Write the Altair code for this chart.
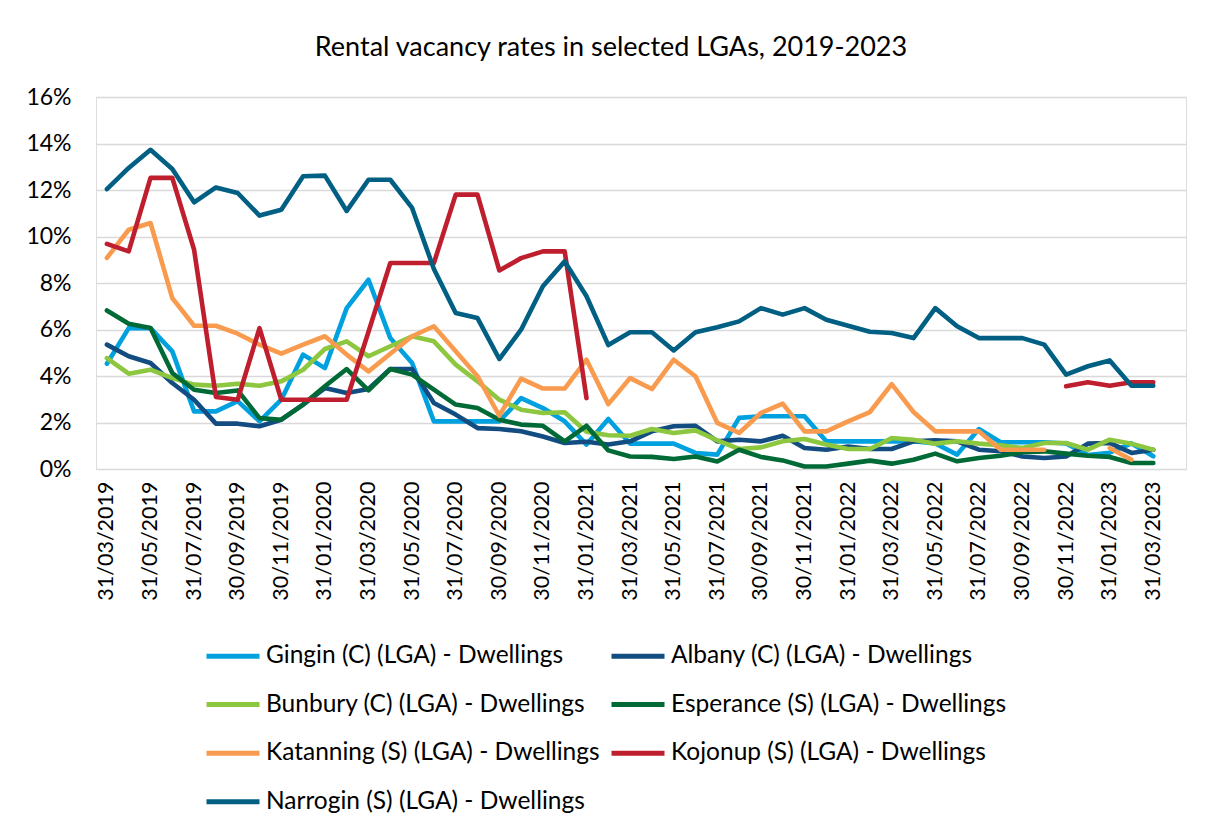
import altair as alt
import pandas as pd

dates = [
    "31/03/2019", "30/04/2019", "31/05/2019", "30/06/2019", "31/07/2019", "31/08/2019",
    "30/09/2019", "31/10/2019", "30/11/2019", "31/12/2019", "31/01/2020", "29/02/2020",
    "31/03/2020", "30/04/2020", "31/05/2020", "30/06/2020", "31/07/2020", "31/08/2020",
    "30/09/2020", "31/10/2020", "30/11/2020", "31/12/2020", "31/01/2021", "28/02/2021",
    "31/03/2021", "30/04/2021", "31/05/2021", "30/06/2021", "31/07/2021", "31/08/2021",
    "30/09/2021", "31/10/2021", "30/11/2021", "31/12/2021", "31/01/2022", "28/02/2022",
    "31/03/2022", "30/04/2022", "31/05/2022", "30/06/2022", "31/07/2022", "31/08/2022",
    "30/09/2022", "31/10/2022", "30/11/2022", "31/12/2022", "31/01/2023", "28/02/2023",
    "31/03/2023", "30/04/2023",
]

gingin = [4.53, 6.06, 6.06, 5.06, 2.48, 2.48, 2.92, 2.05, 2.98, 4.92, 4.34, 6.92, 8.14,
          5.63, 4.56, 2.05, 2.05, 2.05, 2.05, 3.05, 2.62, 2.05, 1.05, 2.15, 1.09, 1.09,
          1.09, 0.69, 0.62, 2.2, 2.27, 2.27, 2.27, 1.19, 1.19, 1.19, 1.19, 1.19, 1.1,
          0.62, 1.72, 1.15, 1.15, 1.15, 1.1, 0.6, 0.7, 1.1, 0.55]
albany = [5.35, 4.85, 4.56, 3.7, 2.98, 1.95, 1.95, 1.84, 2.12, 2.77, 3.48, 3.27, 3.44,
          4.3, 4.3, 2.84, 2.34, 1.76, 1.72, 1.62, 1.4, 1.12, 1.17, 1.05, 1.19, 1.62,
          1.84, 1.86, 1.19, 1.26, 1.19, 1.43, 0.9, 0.83, 0.97, 0.86, 0.86, 1.19, 1.23,
          1.19, 0.83, 0.76, 0.54, 0.47, 0.54, 1.09, 1.12, 0.69, 0.83]
bunbury = [4.77, 4.1, 4.27, 3.91, 3.63, 3.58, 3.67, 3.58, 3.77, 4.27, 5.16, 5.49, 4.85,
           5.28, 5.71, 5.49, 4.49, 3.77, 2.98, 2.55, 2.41, 2.44, 1.6, 1.45, 1.43, 1.72,
           1.55, 1.66, 1.23, 0.86, 0.93, 1.19, 1.29, 1.05, 0.86, 0.86, 1.33, 1.26, 1.09,
           1.19, 1.09, 1.02, 0.9, 1.12, 1.12, 0.83, 1.26, 1.09, 0.83]
esperance = [6.82, 6.25, 6.06, 4.13, 3.41, 3.27, 3.38, 2.19, 2.12, 2.77, 3.56, 4.3, 3.38,
             4.3, 4.06, 3.41, 2.77, 2.62, 2.12, 1.91, 1.86, 1.19, 1.86, 0.8, 0.54, 0.52,
             0.43, 0.54, 0.32, 0.83, 0.52, 0.37, 0.11, 0.11, 0.23, 0.36, 0.23, 0.4, 0.66,
             0.33, 0.47, 0.57, 0.72, 0.76, 0.66, 0.57, 0.52, 0.26, 0.26]
katanning = [9.08, 10.29, 10.58, 7.35, 6.16, 6.16, 5.82, 5.35, 4.96, 5.35, 5.71, 4.92, 4.2,
             4.96, 5.71, 6.14, 5.06, 3.99, 2.29, 3.89, 3.46, 3.46, 4.7, 2.79, 3.91, 3.44,
             4.7, 3.99, 1.98, 1.55, 2.41, 2.81, 1.62, 1.62, 2.05, 2.45, 3.65, 2.45, 1.62,
             1.62, 1.62, 0.83, 0.83, 0.83, None, None, 0.9, 0.4, None]
kojonup = [9.68, 9.36, 12.52, 12.52, 9.43, 3.1, 2.98, 6.06, 2.98, 2.98, 2.98, 2.98, 5.9,
           8.86, 8.86, 8.86, 11.8, 11.8, 8.54, 9.07, 9.36, 9.36, 3.05,
           None, None, None, None, None, None, None, None, None, None, None, None, None,
           None, None, None, None, None, None, None, None,
           3.56, 3.73, 3.58, 3.73, 3.73]
narrogin = [12.04, 12.95, 13.73, 12.9, 11.47, 12.11, 11.87, 10.9, 11.15, 12.59, 12.62, 11.1,
            12.44, 12.44, 11.23, 8.6, 6.71, 6.49, 4.73, 5.99, 7.86, 8.93, 7.43, 5.33, 5.88,
            5.88, 5.1, 5.88, 6.1, 6.35, 6.92, 6.64, 6.92, 6.42, 6.16, 5.9, 5.85, 5.63, 6.92,
            6.14, 5.63, 5.63, 5.63, 5.35, 4.06, 4.42, 4.67, 3.58, 3.58]

names = [
    "Gingin (C) (LGA) - Dwellings",
    "Albany (C) (LGA) - Dwellings",
    "Bunbury (C) (LGA) - Dwellings",
    "Esperance (S) (LGA) - Dwellings",
    "Katanning (S) (LGA) - Dwellings",
    "Kojonup (S) (LGA) - Dwellings",
    "Narrogin (S) (LGA) - Dwellings",
]
series = [gingin, albany, bunbury, esperance, katanning, kojonup, narrogin]
colors = ["#00A1DE", "#124C80", "#8DC63F", "#006A36", "#F99B4F", "#BE1E2D", "#005F83"]
y_ticks = [0, 2, 4, 6, 8, 10, 12, 14, 16]

rows = []
for name, vals in zip(names, series):
    seg = 0
    prev_none = False
    for i, v in enumerate(vals):
        if v is None:
            if not prev_none:
                seg += 1
            prev_none = True
            continue
        prev_none = False
        rows.append({"series": name, "date": dates[i], "idx": i, "value": v,
                     "seg": f"{name}-{seg}"})
df = pd.DataFrame(rows)

FONT = "Lato"

chart = alt.Chart(df).mark_line(strokeWidth=4.6, strokeCap="round", strokeJoin="round").encode(
    x=alt.X("date:O",
            scale=alt.Scale(type="point", domain=dates, padding=0.5),
            axis=alt.Axis(title=None, values=dates[::2], labelAngle=-90, labelFontSize=21.5,
                          labelFont=FONT, labelColor="#000000", labelPadding=12,
                          ticks=False, domain=False, grid=False)),
    y=alt.Y("value:Q",
            scale=alt.Scale(domain=[0, 16], nice=False),
            axis=alt.Axis(title=None, values=y_ticks, labelExpr="datum.value + '%'",
                          labelFontSize=23, labelFont=FONT, labelColor="#000000",
                          labelPadding=25, ticks=False, domain=False,
                          gridColor="#D9D9D9", gridWidth=1.6)),
    color=alt.Color("series:N",
                    scale=alt.Scale(domain=names, range=colors),
                    legend=alt.Legend(title=None, orient="none", legendX=108, legendY=530,
                                      columns=2, direction="horizontal",
                                      symbolType="stroke", symbolStrokeWidth=5,
                                      symbolSize=2809, labelFontSize=24.5, labelFont=FONT,
                                      labelColor="#000000", rowPadding=7.6, columnPadding=1,
                                      labelOffset=4, labelLimit=500)),
    detail="seg:N",
    order="idx:Q",
).properties(
    width=1090,
    height=372,
    title=alt.TitleParams("Rental vacancy rates in selected LGAs, 2019-2023",
                          fontSize=27, font=FONT, fontWeight="normal", color="#000000",
                          anchor="middle", dx=-30, offset=24),
    autosize=alt.AutoSizeParams(type="none"),
    padding={"left": 88, "top": 89, "right": 14, "bottom": 350},
).configure_view(stroke=None).configure(background="#FFFFFF")

chart.save("out.html", embed_options={"renderer": "svg", "actions": False})
